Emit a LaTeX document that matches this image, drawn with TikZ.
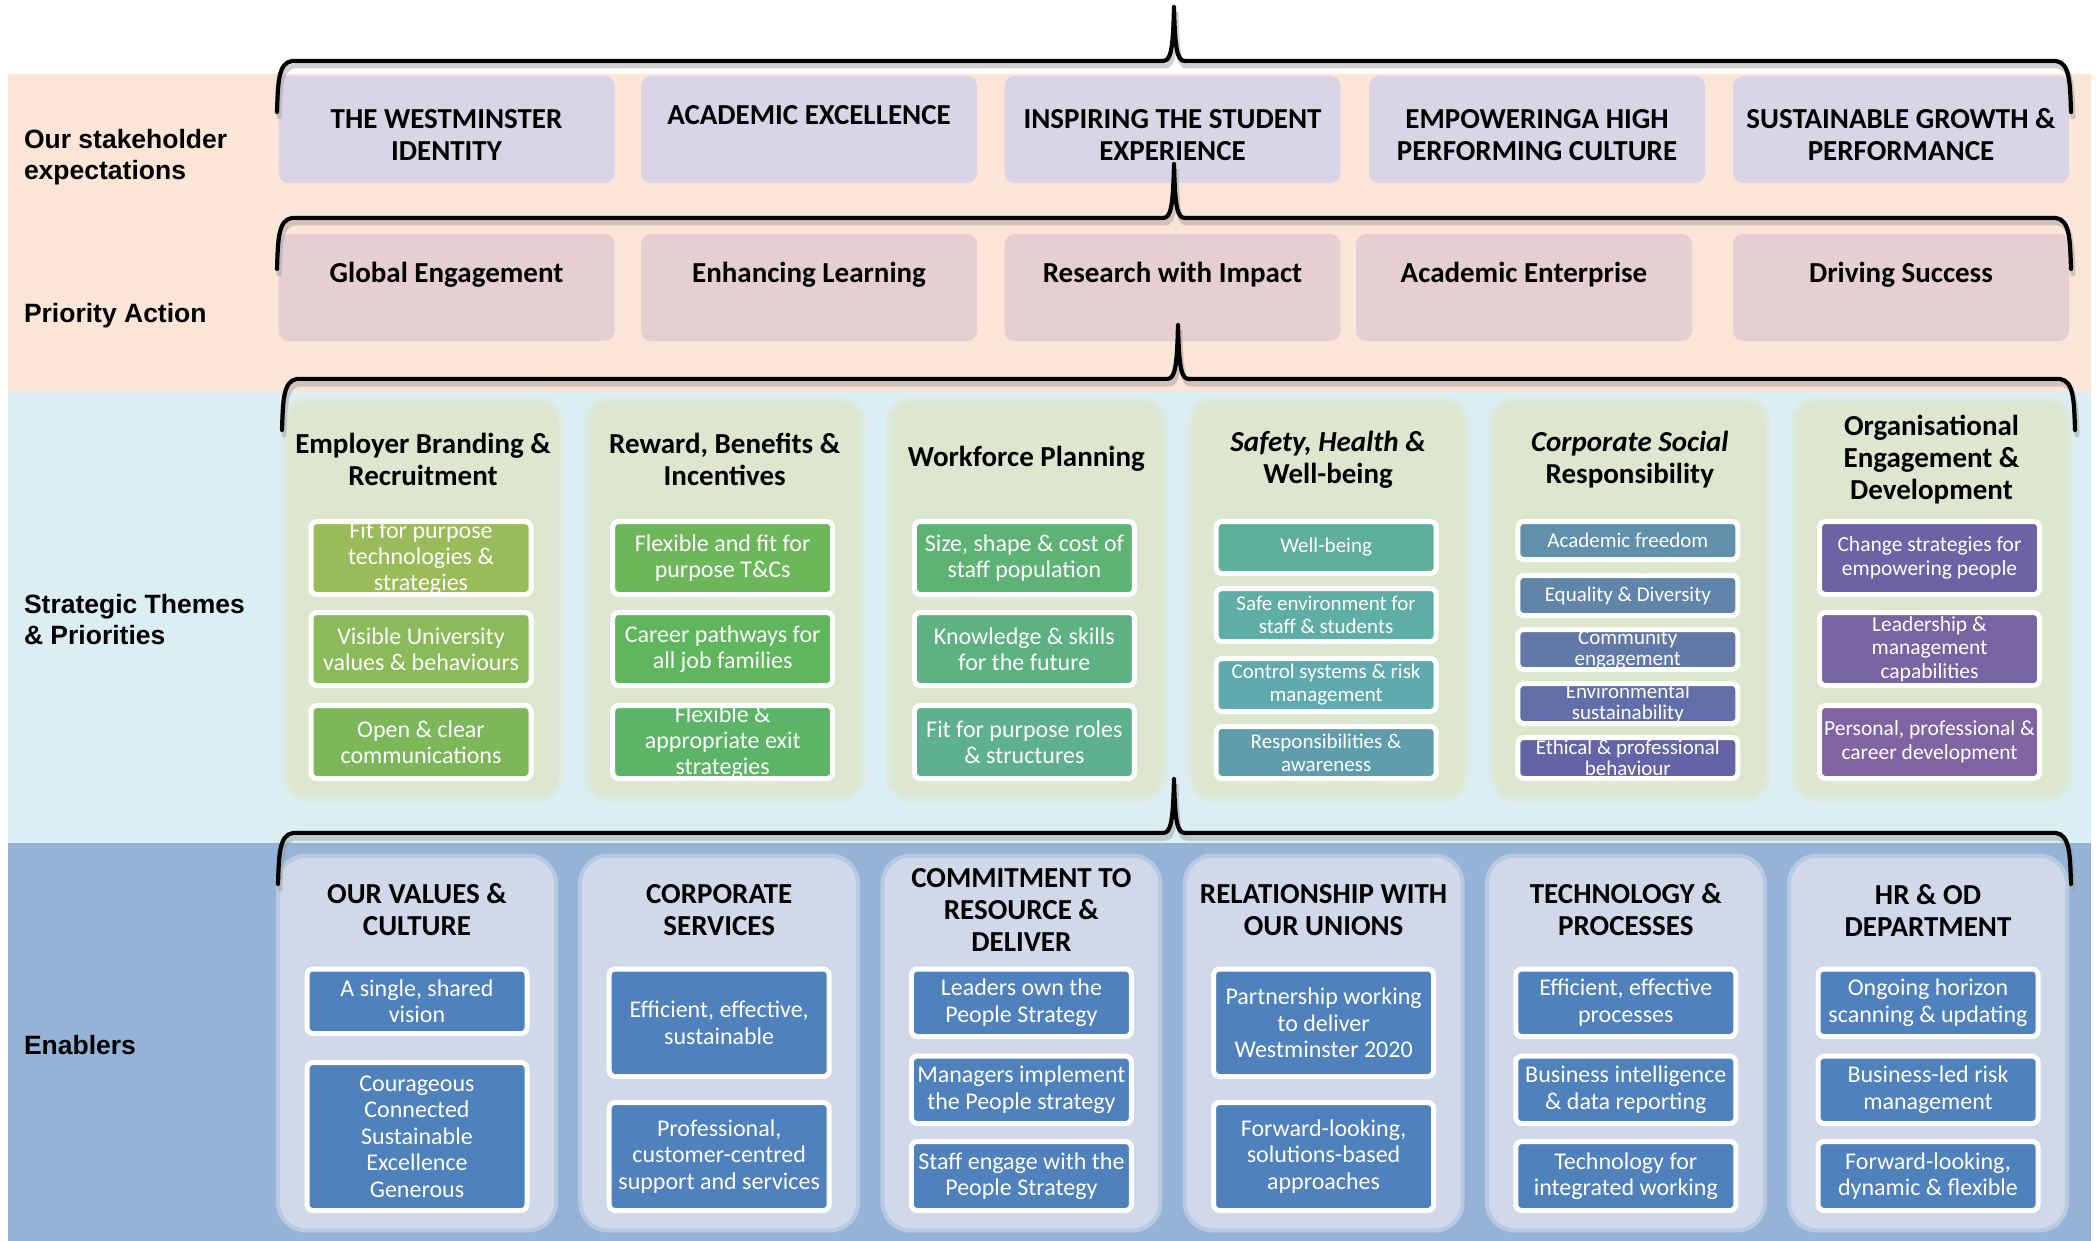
\documentclass[tikz,border=0pt]{standalone}
\usepackage{fontspec}
\setmainfont{Carlito}
\newfontfamily\lblfont{Liberation Sans}

\definecolor{peachband}{HTML}{FBE5D6}
\definecolor{aquaband}{HTML}{DAEEF3}
\definecolor{blueband}{HTML}{95B3D7}
\definecolor{expectfill}{HTML}{D9D5E6}
\definecolor{priofill}{HTML}{E6CFD2}
\definecolor{themefill}{HTML}{DDE7D0}
\definecolor{enabfill}{HTML}{D0D8E9}
\definecolor{enabtile}{HTML}{4F81BD}

% curly bracket: #1 left x, #2 tip x, #3 right x, #4 y of the bar
\newcommand{\bracepath}[4]{%
  (#1,#4+51) .. controls (#1+1,#4+22) and (#1+1,#4+2) .. (#1+15,#4)
  -- (#2-11,#4) .. controls (#2-3,#4) and (#2-1,#4-12) .. (#2,#4-54)
  .. controls (#2+1,#4-12) and (#2+3,#4) .. (#2+11,#4)
  -- (#3-15,#4) .. controls (#3-1,#4+2) and (#3-1,#4+22) .. (#3,#4+51)}
\newcommand{\drawbrace}[4]{%
  \draw[braceshade, shift={(2,5)}] \bracepath{#1}{#2}{#3}{#4};
  \draw[braceline] \bracepath{#1}{#2}{#3}{#4};}

% coloured tile of a strategic theme; its colour runs along the hue circle
% #1 name, #2 index 0..20, #3 centre x, #4 top y, #5 bottom y, #6 font size, #7 line skip, #8 text
\newcommand{\themetile}[8]{%
  \pgfmathsetmacro\tilehue{80+187*#2/20}%
  \pgfmathsetmacro\tilesat{0.524-0.141*#2/20}%
  \pgfmathsetmacro\tilebri{0.733-0.098*#2/20}%
  \definecolor{tilehsb}{Hsb}{\tilehue,\tilesat,\tilebri}%
  \colorlet{tilecol}[rgb]{tilehsb}%
  \node[tilebox, fill=tilecol, minimum height={#5-#4-5}] (#1) at (#3,{(#4+#5)/2}) {};
  \node[tiletext, font=\fontsize{#6}{#7}\selectfont] (#1t) at (#1.center) {#8};}

% blue tile of an enabler: #1 name, #2 centre x, #3 top y, #4 bottom y, #5 text
\newcommand{\enabtilebox}[5]{%
  \node[tilebox, fill=enabtile, minimum height={#4-#3-5}] (#1) at (#2,{(#3+#4)/2}) {};
  \node[tiletext, font=\fontsize{24}{26.4}\selectfont] (#1t) at (#1.center) {#5};}

\begin{document}
\begin{tikzpicture}[x=1pt, y=-1pt,
  every node/.style={inner sep=0pt, outer sep=0pt},
  bandlabel/.style={anchor=west, align=left, font=\lblfont\bfseries\fontsize{26.5}{31}\selectfont},
  headbox/.style={rounded corners=10pt, minimum width=336pt, minimum height=107pt},
  headtext/.style={align=center, font=\fontsize{29}{32}\selectfont\bfseries},
  thpanel/.style={rounded corners=24pt, minimum width=276pt, minimum height=401pt,
                  fill=themefill, draw=themefill!55!aquaband, line width=5pt},
  enpanel/.style={rounded corners=28pt, minimum width=278pt, minimum height=375pt,
                  fill=enabfill, draw=enabfill!60!blueband, line width=4pt},
  coltitle/.style={align=center, font=\fontsize{29}{32}\selectfont\bfseries},
  tilebox/.style={rounded corners=6pt, draw=white, line width=5pt, minimum width=220pt},
  tiletext/.style={align=center, text=white},
  braceline/.style={line width=4.2pt, line cap=round, line join=round, black},
  braceshade/.style={line width=5pt, line cap=round, black!40, opacity=0.45},
]
\useasboundingbox (0,0) rectangle (2099,1241);
\fill[white] (0,0) rectangle (2099,1241);

% background bands
\fill[peachband] (8,74) rectangle (2091,392);
\fill[aquaband]  (8,392) rectangle (2091,843);
\fill[blueband]  (8,843) rectangle (2091,1241);

% band labels
\node[bandlabel] (lab1) at (24,157.5) {Our stakeholder\\expectations};
\node[bandlabel] (lab2) at (24,316) {Priority Action};
\node[bandlabel] (lab3) at (24,620) {Strategic Themes\\\& Priorities};
\node[bandlabel] (lab4) at (24,1045) {Enablers};

% stakeholder expectations
\node[headbox, fill=expectfill] (e1) at (446.5,129.5) {};
\node[headbox, fill=expectfill] (e2) at (809,129.5) {};
\node[headbox, fill=expectfill] (e3) at (1172.5,129.5) {};
\node[headbox, fill=expectfill] (e4) at (1537,129.5) {};
\node[headbox, fill=expectfill] (e5) at (1901,129.5) {};
\node[headtext] (e1t) at (446.5,135) {THE WESTMINSTER\\IDENTITY};
\node[headtext] (e2t) at (809,115) {ACADEMIC EXCELLENCE};
\node[headtext] (e3t) at (1172.5,135) {INSPIRING THE STUDENT\\EXPERIENCE};
\node[headtext] (e4t) at (1537,135) {EMPOWERINGA HIGH\\PERFORMING CULTURE};
\node[headtext] (e5t) at (1901,135) {SUSTAINABLE GROWTH \&\\PERFORMANCE};

% priority actions
\node[headbox, fill=priofill] (p1) at (446.5,287.5) {};
\node[headbox, fill=priofill] (p2) at (809,287.5) {};
\node[headbox, fill=priofill] (p3) at (1172.5,287.5) {};
\node[headbox, fill=priofill] (p4) at (1524,287.5) {};
\node[headbox, fill=priofill] (p5) at (1901,287.5) {};
\node[headtext] (p1t) at (446.5,275) {Global Engagement};
\node[headtext] (p2t) at (809,275) {Enhancing Learning};
\node[headtext] (p3t) at (1172.5,275) {Research with Impact};
\node[headtext] (p4t) at (1524,275) {Academic Enterprise};
\node[headtext] (p5t) at (1901,275) {Driving Success};

% strategic theme panels
\node[thpanel] (t1) at (423,599) {};
\node[thpanel] (t2) at (724.7,599) {};
\node[thpanel] (t3) at (1026.4,599) {};
\node[thpanel] (t4) at (1328.1,599) {};
\node[thpanel] (t5) at (1629.8,599) {};
\node[thpanel] (t6) at (1931.5,599) {};
\node[coltitle] (t1t) at (423,459) {Employer Branding \&\\Recruitment};
\node[coltitle] (t2t) at (724.7,459) {Reward, Benefits \&\\Incentives};
\node[coltitle] (t3t) at (1026.4,459) {Workforce Planning};
\node[coltitle] (t4t) at (1328.1,459.5) {{\itshape Safety, Health \&}\\Well-being};
\node[coltitle] (t5t) at (1629.8,459.5) {{\itshape Corporate Social}\\Responsibility};
\node[coltitle] (t6t) at (1931.5,459.5) {Organisational\\Engagement \&\\Development};

\themetile{a1}{0}{421}{519}{597}{24}{26}{Fit for purpose\\technologies \&\\strategies}
\themetile{a2}{1}{421}{610}{688}{24}{26}{Visible University\\values \& behaviours}
\themetile{a3}{2}{421}{703}{781}{24}{26}{Open \& clear\\communications}
\themetile{b1}{3}{722.7}{519}{597}{24}{26}{Flexible and fit for\\purpose T\&Cs}
\themetile{b2}{4}{722.7}{610}{688}{24}{26}{Career pathways for\\all job families}
\themetile{b3}{5}{722.7}{703}{781}{24}{26}{Flexible \&\\appropriate exit\\strategies}
\themetile{c1}{6}{1024.4}{519}{597}{24}{26}{Size, shape \& cost of\\staff population}
\themetile{c2}{7}{1024.4}{610}{688}{24}{26}{Knowledge \& skills\\for the future}
\themetile{c3}{8}{1024.4}{703}{781}{24}{26}{Fit for purpose roles\\\& structures}
\themetile{d1}{9}{1326.1}{519}{576}{21}{23}{Well-being}
\themetile{d2}{10}{1326.1}{586}{644}{21}{23}{Safe environment for\\staff \& students}
\themetile{d3}{11}{1326.1}{656}{714}{21}{23}{Control systems \& risk\\management}
\themetile{d4}{12}{1326.1}{724}{781}{21}{23}{Responsibilities \&\\awareness}
\themetile{f1}{13}{1627.8}{519}{562}{21}{21.5}{Academic freedom}
\themetile{f2}{14}{1627.8}{573}{618}{21}{21.5}{Equality \& Diversity}
\themetile{f3}{15}{1627.8}{627}{672}{21}{21.5}{Community\\engagement}
\themetile{f4}{16}{1627.8}{681}{726}{21}{21.5}{Environmental\\sustainability}
\themetile{f5}{17}{1627.8}{735}{781}{21}{21.5}{Ethical \& professional\\behaviour}
\themetile{g1}{18}{1929.5}{519}{597}{21.5}{23.5}{Change strategies for\\empowering people}
\themetile{g2}{19}{1929.5}{610}{688}{21.5}{23.5}{Leadership \&\\management\\capabilities}
\themetile{g3}{20}{1929.5}{703}{781}{21.5}{23.5}{Personal, professional \&\\career development}

% enabler panels
\node[enpanel] (n1) at (417,1043) {};
\node[enpanel] (n2) at (719.2,1043) {};
\node[enpanel] (n3) at (1021.4,1043) {};
\node[enpanel] (n4) at (1323.6,1043) {};
\node[enpanel] (n5) at (1625.8,1043) {};
\node[enpanel] (n6) at (1928,1043) {};
\node[coltitle] (n1t) at (417,910) {OUR VALUES \&\\CULTURE};
\node[coltitle] (n2t) at (719.2,910) {CORPORATE\\SERVICES};
\node[coltitle] (n3t) at (1021.4,910) {COMMITMENT TO\\RESOURCE \&\\DELIVER};
\node[coltitle] (n4t) at (1323.6,910) {RELATIONSHIP WITH\\OUR UNIONS};
\node[coltitle] (n5t) at (1625.8,910) {TECHNOLOGY \&\\PROCESSES};
\node[coltitle] (n6t) at (1928,910) {HR \& OD\\DEPARTMENT};

\enabtilebox{v1}{417}{966.5}{1036}{A single, shared\\vision}
\enabtilebox{v2}{417}{1060}{1213}{Courageous\\Connected\\Sustainable\\Excellence\\Generous}
\enabtilebox{s1}{719.2}{966.5}{1079}{Efficient, effective,\\sustainable}
\enabtilebox{s2}{719.2}{1100}{1213}{Professional,\\customer-centred\\support and services}
\enabtilebox{r1}{1021.4}{966.5}{1039}{Leaders own the\\People Strategy}
\enabtilebox{r2}{1021.4}{1053.6}{1126}{Managers implement\\the People strategy}
\enabtilebox{r3}{1021.4}{1139}{1213}{Staff engage with the\\People Strategy}
\enabtilebox{u1}{1323.6}{966.5}{1079}{Partnership working\\to deliver\\Westminster 2020}
\enabtilebox{u2}{1323.6}{1100}{1213}{Forward-looking,\\solutions-based\\approaches}
\enabtilebox{k1}{1625.8}{966.5}{1039}{Efficient, effective\\processes}
\enabtilebox{k2}{1625.8}{1053.6}{1126}{Business intelligence\\\& data reporting}
\enabtilebox{k3}{1625.8}{1139}{1213}{Technology for\\integrated working}
\enabtilebox{h1}{1928}{966.5}{1039}{Ongoing horizon\\scanning \& updating}
\enabtilebox{h2}{1928}{1053.6}{1126}{Business-led risk\\management}
\enabtilebox{h3}{1928}{1139}{1213}{Forward-looking,\\dynamic \& flexible}

% brackets joining the tiers
\drawbrace{277}{1174}{2071}{61}
\drawbrace{277}{1174}{2071}{218}
\drawbrace{282}{1178}{2075}{379}
\drawbrace{278}{1174}{2071}{833}
\end{tikzpicture}
\end{document}
